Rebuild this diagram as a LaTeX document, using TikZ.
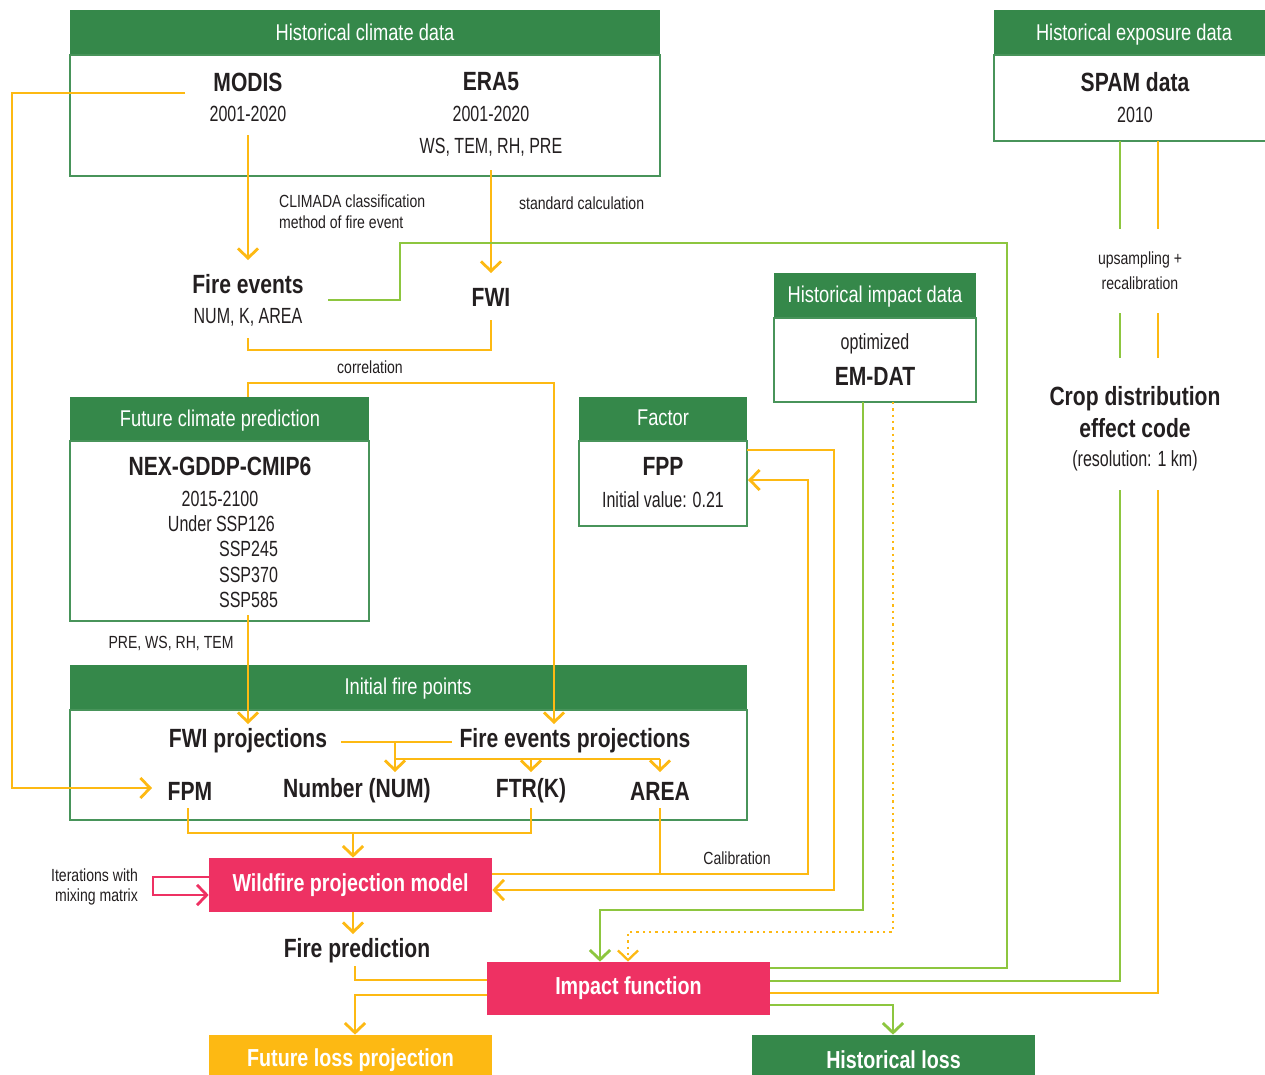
\documentclass[tikz,border=0pt]{standalone}
\usepackage{fontspec}
\setmainfont{Liberation Sans}[FakeStretch=0.8]
\newfontfamily\narrowfont{Liberation Sans}[FakeStretch=0.73]
\usetikzlibrary{arrows.meta}
\definecolor{hdgreen}{RGB}{53,136,74}
\definecolor{boxgreen}{RGB}{72,148,90}
\definecolor{lngreen}{RGB}{141,198,63}
\definecolor{lnyellow}{RGB}{253,185,19}
\definecolor{pinkred}{RGB}{238,49,99}
\definecolor{ink}{RGB}{35,31,32}

\begin{document}
\begin{tikzpicture}[
  x=0.02cm, y=-0.02cm,
  every node/.style={inner sep=1pt, text=ink},
  hdtxt/.style={text=white, text depth=0.25ex, font=\fontsize{13}{15}\selectfont},
  ttl/.style={font=\bfseries\fontsize{15}{18}\selectfont},
  txt/.style={font=\narrowfont\fontsize{12.5}{15}\selectfont},
  lbl/.style={font=\fontsize{10}{12}\selectfont},
  panel/.style={draw=boxgreen, line width=0.8pt},
  blk/.style={minimum width=5.66cm, text=white, font=\bfseries\fontsize{14}{16}\selectfont},
  yl/.style={draw=lnyellow, line width=1.6pt},
  gl/.style={draw=lngreen, line width=1.6pt},
  pk/.style={draw=pinkred, line width=1.6pt},
  dots/.style={line width=1.3pt, dash pattern=on 1.3pt off 2.3pt},
  arr/.style={-{Straight Barb[length=5.5pt,width=11.5pt]}}
]
\useasboundingbox (0,0) rectangle (1265,1075);

% historical climate data
\fill[hdgreen] (70,10) rectangle (660,55);
\draw[panel] (70,55) rectangle (660,176);
\node[hdtxt] (hcd) at (365,33) {Historical climate data};
\node[ttl] (modis) at (248,82) {MODIS};
\node[txt] (modisyr) at (248,114) {2001-2020};
\node[ttl] (era) at (491,82) {ERA5};
\node[txt] (erayr) at (491,114) {2001-2020};
\node[txt] (eravar) at (491,147) {WS, TEM, RH, PRE};

% historical exposure data
\fill[hdgreen] (994,10) rectangle (1275,55);
\draw[panel] (994,55) rectangle (1275,141);
\node[hdtxt] (hed) at (1134,33) {Historical exposure data};
\node[ttl] (spam) at (1135,82) {SPAM data};
\node[txt] (spamyr) at (1135,115) {2010};

\node[lbl, anchor=north west, align=left] (climada) at (277,193) {CLIMADA classification\\method of fire event};
\node[lbl, anchor=west] (stdcalc) at (517,203) {standard calculation};
\node[ttl] (fe) at (248,284) {Fire events};
\node[txt] (fevar) at (248,317) {NUM, K, AREA};
\node[ttl] (fwi) at (491,297) {FWI};
\node[lbl] (corr) at (370,367) {correlation};

% historical impact data
\fill[hdgreen] (774,273) rectangle (976,318);
\draw[panel] (774,318) rectangle (976,402);
\node[hdtxt] (hid) at (875,295) {Historical impact data};
\node[txt] (optim) at (875,344) {optimized};
\node[ttl] (emdat) at (875,376) {EM-DAT};

\node[lbl, align=center, font=\fontsize{10}{14}\selectfont] (upsamp) at (1140,271) {upsampling +\\recalibration};
\node[ttl, align=center] (crop) at (1135,412) {Crop distribution\\effect code};
\node[txt] (resol) at (1135,461) {(resolution: 1 km)};

% future climate prediction
\fill[hdgreen] (70,397) rectangle (369,441);
\draw[panel] (70,441) rectangle (369,621);
\node[hdtxt] (fcp) at (220,419) {Future climate prediction};
\node[ttl] (nex) at (220,466) {NEX-GDDP-CMIP6};
\node[txt] (nexyr) at (220,499) {2015-2100};
\node[txt, anchor=east] (ssp1) at (277,524) {Under SSP126};
\node[txt, anchor=west] (ssp2) at (217,549) {SSP245};
\node[txt, anchor=west] (ssp3) at (217,575) {SSP370};
\node[txt, anchor=west] (ssp4) at (217,600) {SSP585};
\node[lbl] (fcvar) at (171,643) {PRE, WS, RH, TEM};

% factor
\fill[hdgreen] (579,397) rectangle (747,441);
\draw[panel] (579,441) rectangle (747,526);
\node[hdtxt] (fac) at (663,419) {Factor};
\node[ttl] (fpp) at (663,466) {FPP};
\node[txt] (fppval) at (663,500) {Initial value: 0.21};

% initial fire points
\fill[hdgreen] (70,665) rectangle (747,710);
\draw[panel] (70,710) rectangle (747,820);
\node[hdtxt] (ifp) at (408,687) {Initial fire points};
\node[ttl] (fwip) at (248,741) {FWI projections};
\node[ttl] (fep) at (575,741) {Fire events projections};
\node[ttl] (fpm) at (190,791) {FPM};
\node[ttl] (num) at (357,791) {Number (NUM)};
\node[ttl] (ftr) at (531,791) {FTR(K)};
\node[ttl] (area) at (660,791) {AREA};

% model blocks
\node[blk, fill=pinkred, minimum height=1.08cm] (wpm) at (350.5,885) {Wildfire projection model};
\node[lbl, anchor=east, align=right, font=\fontsize{10}{11}\selectfont] (iter) at (140,887) {Iterations with\\mixing matrix};
\node[lbl] (calib) at (737,858) {Calibration};
\node[ttl] (fpred) at (357,951) {Fire prediction};
\node[blk, fill=pinkred, minimum height=1.06cm] (impf) at (628.5,988.5) {Impact function};
\node[blk, fill=lnyellow, minimum height=1.0cm] (flp) at (350.5,1060) {Future loss projection};
\node[blk, fill=hdgreen, minimum height=1.0cm] (hloss) at (893.5,1060) {Historical loss};

% connectors
\draw[yl,arr] (185,93) -- (12,93) -- (12,788) -- (152,788);
\draw[yl,arr] (248,135) -- (248,260);
\draw[yl,arr] (491,170) -- (491,273);
\draw[yl] (248,338) -- (248,350) -- (491,350) -- (491,320);
\draw[yl,arr] (248,397) -- (248,383) -- (554,383) -- (554,724);
\draw[gl] (328,300) -- (400,300) -- (400,243) -- (1007,243) -- (1007,968) -- (impf.east |- 0,968);
\draw[gl] (1120,141) -- (1120,229);
\draw[gl] (1120,313) -- (1120,358);
\draw[gl] (1120,490) -- (1120,981) -- (impf.east |- 0,981);
\draw[yl] (1158,141) -- (1158,229);
\draw[yl] (1158,313) -- (1158,358);
\draw[yl] (1158,490) -- (1158,993) -- (impf.east |- 0,993);
\draw[gl,arr] (863,402) -- (863,910) -- (600,910) -- (impf.north -| 600,0);
\draw[yl,dots,arr] (893,402) -- (893,932) -- (628,932) -- (impf.north -| 628,0);
\draw[yl,arr] (248,615) -- (248,724);
\draw[yl] (341,742) -- (452,742);
\draw[yl,arr] (395,742) -- (395,772);
\draw[yl] (395,759) -- (660,759);
\draw[yl,arr] (531,759) -- (531,772);
\draw[yl,arr] (660,759) -- (660,772);
\draw[yl] (188,808) -- (188,833) -- (531,833) -- (531,808);
\draw[yl,arr] (353,833) -- (wpm.north -| 353,0);
\draw[yl] (660,808) -- (660,874);
\draw[yl,arr] (wpm.east |- 0,874) -- (808,874) -- (808,480) -- (748,480);
\draw[yl,arr] (747,450) -- (834,450) -- (834,890) -- (wpm.east |- 0,890);
\draw[pk,arr] (wpm.west |- 0,877) -- (153,877) -- (153,895) -- (wpm.west |- 0,895);
\draw[yl,arr] (wpm.south -| 353,0) -- (353,934);
\draw[yl] (355,966) -- (355,980) -- (impf.west |- 0,980);
\draw[yl,arr] (impf.west |- 0,995) -- (355,995) -- (flp.north -| 355,0);
\draw[gl,arr] (impf.east |- 0,1005) -- (893,1005) -- (hloss.north -| 893,0);
\end{tikzpicture}
\end{document}
